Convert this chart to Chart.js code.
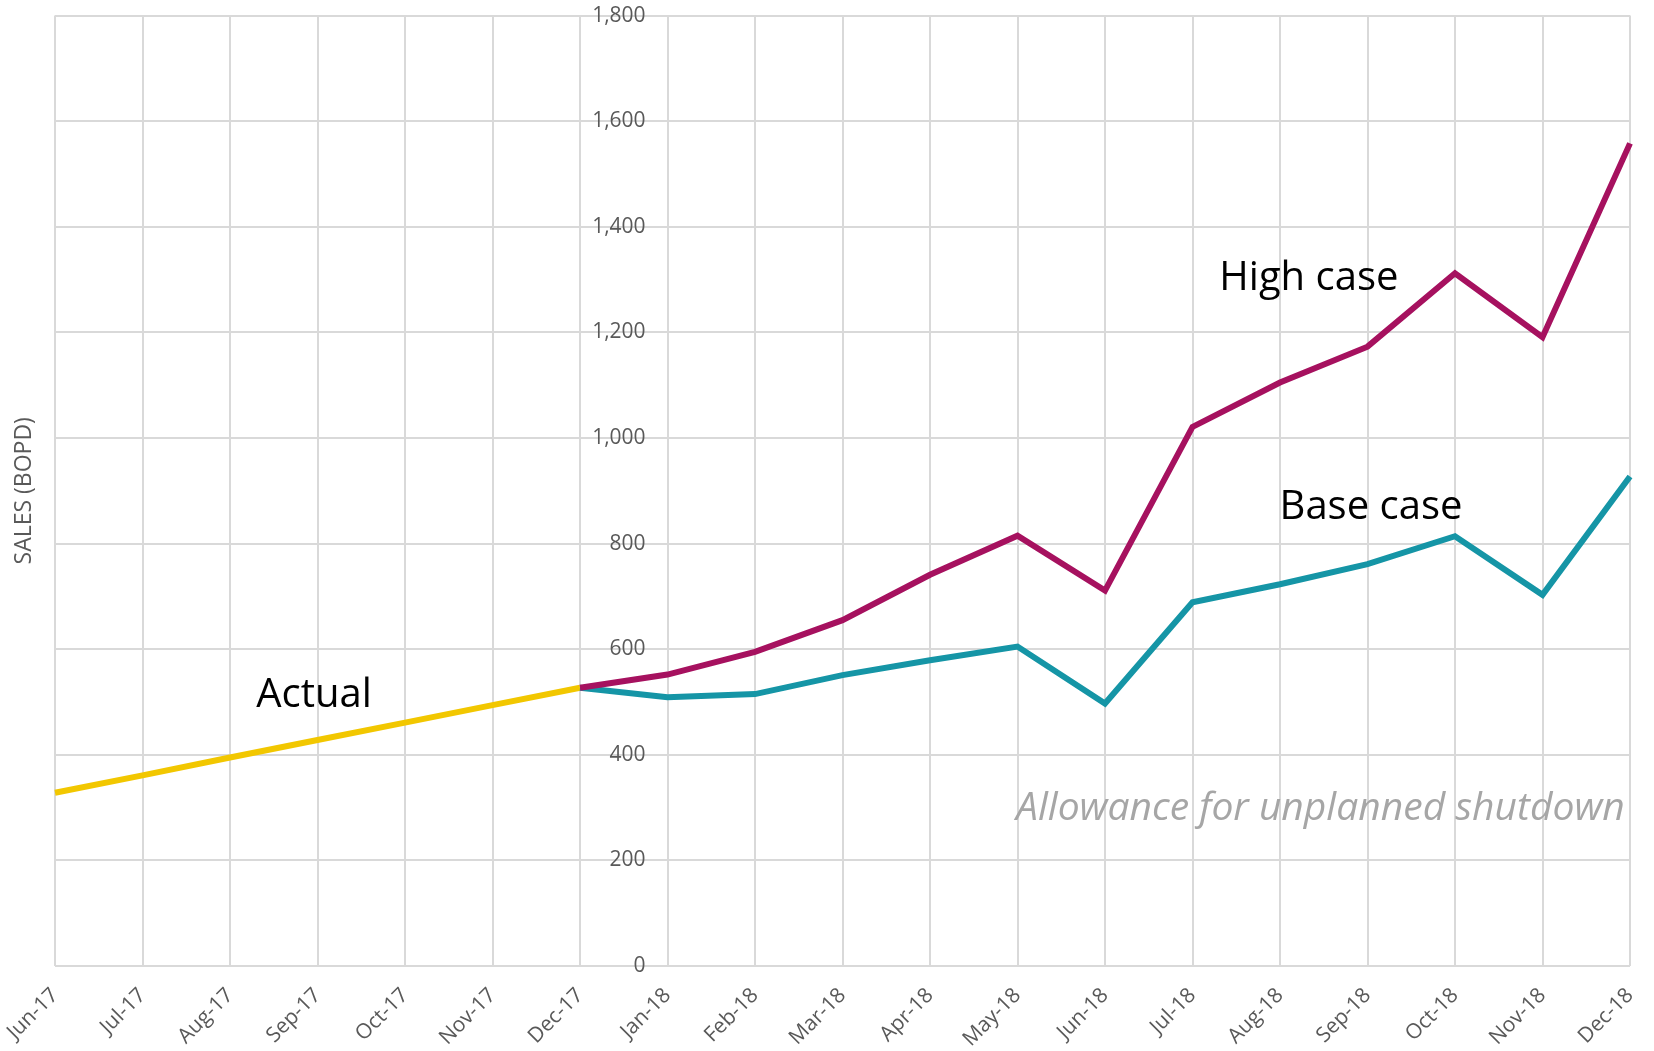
<!DOCTYPE html>
<html>
<head>
<meta charset="utf-8">
<title>Sales (BOPD)</title>
<script src="https://cdn.jsdelivr.net/npm/chart.js@4.4.1/dist/chart.umd.min.js"></script>
<style>
  html, body { margin: 0; padding: 0; background: #fff; }
  #wrap { width: 1654px; height: 1051px; }
</style>
</head>
<body>
<div id="wrap"><canvas id="sales" width="1654" height="1051"></canvas></div>
<script>
const months = ['Jun-17', 'Jul-17', 'Aug-17', 'Sep-17', 'Oct-17', 'Nov-17', 'Dec-17',
  'Jan-18', 'Feb-18', 'Mar-18', 'Apr-18', 'May-18', 'Jun-18', 'Jul-18', 'Aug-18',
  'Sep-18', 'Oct-18', 'Nov-18', 'Dec-18']

const actual = [328, 361, 395, 428, 461, 494, 527,
  null, null, null, null, null, null, null, null, null, null, null, null]
const highCase = [null, null, null, null, null, null, 527,
  552, 595, 655, 741, 815, 711, 1021, 1105, 1173, 1312, 1191, 1558]
const baseCase = [null, null, null, null, null, null, 527,
  509, 515, 551, 579, 605, 497, 689, 723, 761, 814, 703, 927]

const yMin = 0
const yMax = 1800
const yStep = 200

const gridColor = '#D9D9D9'
const tickColor = '#595959'

Chart.defaults.font.family = "'Open Sans', sans-serif"

// text notes on the plot, anchored in data coordinates
const notes = {
  id: 'notes',
  afterDatasetsDraw(chart) {
    const x = chart.scales.x
    const y = chart.scales.y
    const ctx = chart.ctx
    ctx.save()
    ctx.textAlign = 'center'
    ctx.textBaseline = 'middle'
    ctx.fillStyle = '#000000'
    ctx.font = "40px 'Open Sans'"
    ctx.fillText('Actual', x.getPixelForValue(2.96), y.getPixelForValue(513))
    ctx.fillText('High case', x.getPixelForValue(14.33), y.getPixelForValue(1301))
    ctx.fillText('Base case', x.getPixelForValue(15.04), y.getPixelForValue(869))
    ctx.font = "italic 39px 'Open Sans'"
    ctx.fillStyle = '#A6A6A6'
    ctx.textAlign = 'right'
    ctx.fillText('Allowance for unplanned shutdown', x.getPixelForValue(17.94), y.getPixelForValue(297))
    ctx.restore()
  }
}

new Chart(document.getElementById('sales'), {
  type: 'line',
  data: {
    labels: months,
    datasets: [
      {
        label: 'High case',
        data: highCase,
        borderColor: '#A6115F',
        borderWidth: 6,
        pointRadius: 0,
        tension: 0
      },
      {
        label: 'Base case',
        data: baseCase,
        borderColor: '#1595A6',
        borderWidth: 6,
        pointRadius: 0,
        tension: 0
      },
      {
        label: 'Actual',
        data: actual,
        borderColor: '#F2C700',
        borderWidth: 6,
        pointRadius: 0,
        tension: 0
      }
    ]
  },
  options: {
    responsive: false,
    animation: false,
    layout: { padding: { top: 0, right: 24, left: 0, bottom: 0 } },
    plugins: {
      legend: { display: false },
      tooltip: { enabled: false }
    },
    scales: {
      x: {
        offset: false,
        grid: { color: gridColor, lineWidth: 2, drawTicks: false },
        border: { display: false },
        ticks: {
          autoSkip: false,
          minRotation: 45,
          maxRotation: 45,
          color: tickColor,
          font: { size: 21 },
          padding: 17
        },
        afterFit(s) {
          s.height = 85
          s.paddingLeft = 0
          s.paddingRight = 0
        }
      },
      y: {
        min: yMin,
        max: yMax,
        ticks: { display: false, stepSize: yStep },
        grid: { color: gridColor, lineWidth: 2, drawTicks: false },
        border: { display: false },
        title: {
          display: true,
          text: 'SALES (BOPD)',
          color: tickColor,
          font: { size: 23 },
          padding: { top: 11, bottom: 0 }
        },
        afterFit(s) { s.width = 55 }
      },
      yLabels: {
        axis: 'y',
        position: { x: 6.75 },
        min: yMin,
        max: yMax,
        ticks: {
          stepSize: yStep,
          color: tickColor,
          font: { size: 21 },
          callback: v => v.toLocaleString('en-US')
        },
        grid: { display: false, drawTicks: false },
        border: { display: false }
      }
    }
  },
  plugins: [notes]
})
</script>
</body>
</html>
